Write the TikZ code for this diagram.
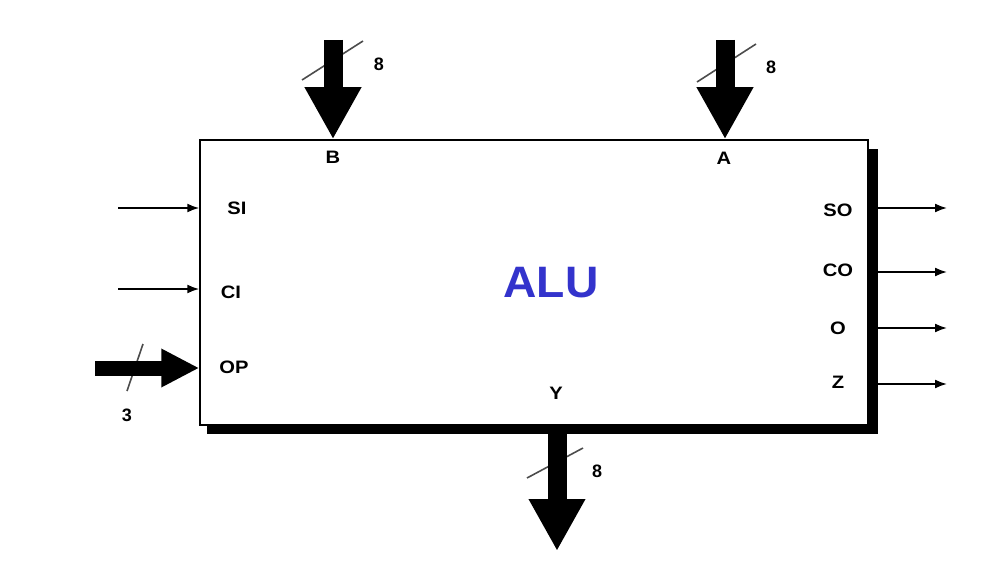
\documentclass[tikz,border=0pt]{standalone}
\usepackage{fontspec}
\setmainfont{Liberation Sans}
\usetikzlibrary{arrows.meta,backgrounds,calc}
\definecolor{alublue}{RGB}{51,51,204}
\newcommand{\wlbl}[1]{\scalebox{1.12}[1]{#1}}
\begin{document}
\begin{tikzpicture}[x=1pt,y=-1pt,
  lbl/.style={font=\fontsize{18}{18}\selectfont\bfseries, inner sep=0pt},
  sig/.style={line width=1.8pt, -{Latex[length=12pt,width=9pt]}},
  bus/.style={line width=19pt, -{Triangle[length=52pt,width=53pt]}},
  smallbus/.style={line width=15pt, -{Triangle[length=38pt,width=36pt]}},
  slash/.style={line width=1.6pt, black!70}]
\useasboundingbox (0,0) rectangle (1001,567);
% main block
\node[draw, line width=1.5pt, fill=white, minimum width=668pt, minimum height=285pt, inner sep=0pt] (alu) at (534,282.5) {};
\begin{scope}[on background layer]
\fill[black] ($(alu.south west)+(8,0)$) rectangle ($(alu.north east)+(9,10)$);
\fill[black] ($(alu.south west)+(8,-1)$) rectangle ($(alu.south east)+(9,8)$);
\end{scope}
\node[font=\fontsize{44}{44}\selectfont\bfseries, text=alublue, inner sep=0pt] (title) at (551,283) {\scalebox{1.05}[1]{ALU}};
% coordinates of free ends
\coordinate (bT) at (333,40);
\coordinate (aT) at (725,40);
\coordinate (yB) at (557,551);
\coordinate (yS) at (557,433);
\coordinate (si0) at (118,208);
\coordinate (ci0) at (118,289);
\coordinate (op0) at (95,368);
\coordinate (so1) at (947,208);
\coordinate (co1) at (947,272);
\coordinate (o1) at (947,328);
\coordinate (z1) at (947,384);
% bus width slashes
\coordinate (bs1) at (302,80); \coordinate (bs2) at (363,41);
\coordinate (as1) at (697,82); \coordinate (as2) at (756,44);
\coordinate (ys1) at (527,478); \coordinate (ys2) at (583,448);
\coordinate (os1) at (143,344); \coordinate (os2) at (127,391);
\draw[slash] (bs1) -- (bs2);
\draw[slash] (as1) -- (as2);
\draw[slash] (ys1) -- (ys2);
\draw[slash] (os1) -- (os2);
% buses
\draw[bus] (bT) -- (bT |- alu.north);
\draw[bus] (aT) -- (aT |- alu.north);
\draw[bus] (yS) -- (yB);
\draw[smallbus] (op0) -- (op0 -| alu.west);
% single signals
\draw[sig] (si0) -- (si0 -| alu.west);
\draw[sig] (ci0) -- (ci0 -| alu.west);
\draw[sig] ($(so1 -| alu.east)+(9,0)$) -- (so1);
\draw[sig] ($(co1 -| alu.east)+(9,0)$) -- (co1);
\draw[sig] ($(o1 -| alu.east)+(9,0)$) -- (o1);
\draw[sig] ($(z1 -| alu.east)+(9,0)$) -- (z1);
% labels
\node[lbl] (lB) at (333,157) {\wlbl{B}};
\node[lbl] (lA) at (724,158) {\wlbl{A}};
\node[lbl] (lY) at (556,393) {\wlbl{Y}};
\node[lbl] (lSI) at (237,208) {\wlbl{SI}};
\node[lbl] (lCI) at (231,292) {\wlbl{CI}};
\node[lbl] (lOP) at (234,367) {\wlbl{OP}};
\node[lbl] (lSO) at (838,210) {\wlbl{SO}};
\node[lbl] (lCO) at (838,270) {\wlbl{CO}};
\node[lbl] (lO) at (838,328) {\wlbl{O}};
\node[lbl] (lZ) at (838,382) {\wlbl{Z}};
\node[lbl] (w1) at (379,64) {8};
\node[lbl] (w2) at (771,67) {8};
\node[lbl] (w3) at (597,471) {8};
\node[lbl] (w4) at (127,415) {3};
\end{tikzpicture}
\end{document}
